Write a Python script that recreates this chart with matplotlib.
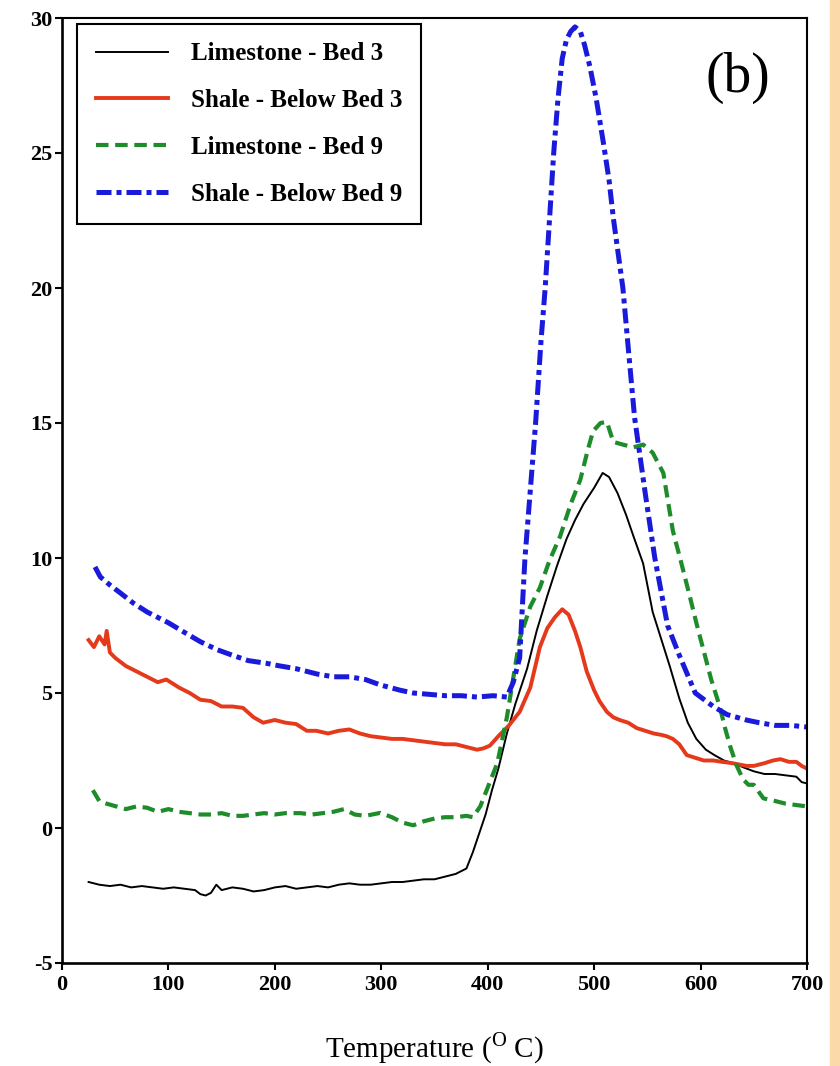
import matplotlib.pyplot as plt
from matplotlib.patches import Rectangle

# temperature (deg C) and signal for each sample
lime3_t = [25, 35, 45, 55, 65, 75, 85, 95, 105, 115, 125, 130, 135, 140, 145, 150,
           160, 170, 180, 190, 200, 210, 220, 230, 240, 250, 260, 270, 280, 290, 300,
           310, 320, 330, 340, 350, 360, 370, 380, 386, 392, 398, 404, 410, 418, 426,
           437, 446, 456, 465, 474, 482, 490, 500, 508, 514, 522, 530, 537, 546, 555,
           563, 571, 580, 588, 596, 605, 613, 622, 631, 640, 650, 660, 670, 680, 690,
           695, 700]
lime3_v = [-2.0, -2.1, -2.15, -2.1, -2.2, -2.15, -2.2, -2.25, -2.2, -2.25, -2.3, -2.45,
           -2.5, -2.4, -2.1, -2.3, -2.2, -2.25, -2.35, -2.3, -2.2, -2.15, -2.25, -2.2,
           -2.15, -2.2, -2.1, -2.05, -2.1, -2.1, -2.05, -2.0, -2.0, -1.95, -1.9, -1.9,
           -1.8, -1.7, -1.5, -0.9, -0.2, 0.5, 1.4, 2.2, 3.5, 4.6, 5.9, 7.3, 8.6, 9.7,
           10.7, 11.4, 12.0, 12.6, 13.15, 13.0, 12.4, 11.6, 10.8, 9.8, 8.0, 7.0, 6.0,
           4.8, 3.9, 3.3, 2.9, 2.7, 2.5, 2.4, 2.25, 2.1, 2.0, 2.0, 1.95, 1.9, 1.7, 1.65]

shale3_t = [25, 30, 35, 40, 42, 45, 50, 60, 70, 80, 90, 98, 110, 120, 130, 140, 150,
            160, 170, 180, 189, 200, 210, 220, 230, 239, 250, 260, 270, 280, 290, 300,
            310, 320, 330, 340, 350, 360, 370, 380, 390, 396, 402, 410, 420, 430, 440,
            449, 456, 463, 470, 476, 482, 487, 493, 500, 505, 512, 518, 524, 532, 540,
            548, 556, 563, 568, 574, 580, 587, 595, 603, 612, 620, 630, 643, 650, 660,
            668, 675, 683, 690, 695, 700]
shale3_v = [6.96, 6.7, 7.1, 6.8, 7.3, 6.5, 6.3, 6.0, 5.8, 5.6, 5.4, 5.5, 5.2, 5.0, 4.75,
            4.7, 4.5, 4.5, 4.45, 4.1, 3.9, 4.0, 3.9, 3.85, 3.6, 3.6, 3.5, 3.6, 3.65, 3.5,
            3.4, 3.35, 3.3, 3.3, 3.25, 3.2, 3.15, 3.1, 3.1, 3.0, 2.9, 2.95, 3.05, 3.4,
            3.8, 4.3, 5.2, 6.7, 7.4, 7.8, 8.1, 7.9, 7.3, 6.7, 5.8, 5.1, 4.7, 4.3, 4.1,
            4.0, 3.9, 3.7, 3.6, 3.5, 3.45, 3.4, 3.3, 3.1, 2.7, 2.6, 2.5, 2.5, 2.45, 2.4,
            2.3, 2.3, 2.4, 2.5, 2.55, 2.45, 2.45, 2.3, 2.2]

lime9_t = [29, 35, 42, 51, 60, 70, 80, 90, 100, 110, 120, 130, 140, 150, 160, 170, 180,
           190, 200, 210, 224, 235, 245, 255, 265, 275, 285, 299, 310, 320, 330, 340,
           350, 360, 370, 380, 386, 393, 400, 409, 418, 430, 440, 449, 458, 468, 478,
           487, 494, 499, 506, 512, 518, 527, 537, 546, 555, 565, 574, 582, 590, 596,
           602, 610, 618, 623, 628, 634, 640, 645, 650, 659, 670, 680, 690, 700]
lime9_v = [1.4, 1.0, 0.9, 0.8, 0.7, 0.8, 0.75, 0.6, 0.7, 0.6, 0.55, 0.5, 0.5, 0.55, 0.45,
           0.45, 0.5, 0.55, 0.5, 0.55, 0.55, 0.5, 0.55, 0.6, 0.7, 0.5, 0.45, 0.56, 0.4,
           0.2, 0.1, 0.25, 0.35, 0.4, 0.4, 0.45, 0.4, 0.8, 1.5, 2.4, 4.1, 7.0, 8.2, 8.9,
           9.9, 10.8, 12.0, 12.9, 14.0, 14.7, 15.0, 15.04, 14.3, 14.2, 14.1, 14.2, 13.9,
           13.15, 11.0, 9.8, 8.56, 7.6, 6.7, 5.5, 4.5, 3.7, 3.0, 2.3, 1.8, 1.6, 1.6, 1.1,
           1.0, 0.9, 0.85, 0.8]

shale9_t = [31, 36, 45, 55, 67, 80, 90, 100, 117, 130, 146, 160, 175, 192, 205, 220,
            240, 255, 270, 285, 299, 318, 330, 345, 360, 375, 390, 405, 418, 424, 430,
            435, 440, 445, 450, 454, 458, 462, 466, 470, 474, 478, 482, 487, 491, 496,
            502, 509, 514, 518, 527, 532, 538, 548, 557, 569, 580, 595, 612, 625, 643,
            655, 670, 685, 700]
shale9_v = [9.67, 9.3, 9.0, 8.7, 8.33, 8.0, 7.8, 7.6, 7.2, 6.9, 6.6, 6.4, 6.2, 6.1, 6.0,
            5.9, 5.7, 5.6, 5.6, 5.5, 5.3, 5.1, 5.0, 4.95, 4.9, 4.9, 4.85, 4.9, 4.85, 5.4,
            6.3, 10.0, 12.5, 15.0, 18.0, 20.0, 22.5, 25.0, 27.0, 28.5, 29.2, 29.5, 29.67,
            29.5, 29.0, 28.2, 27.0, 25.3, 24.0, 22.6, 20.0, 17.8, 15.2, 12.4, 10.0, 7.5,
            6.4, 5.0, 4.5, 4.2, 4.0, 3.9, 3.8, 3.8, 3.74]

labels = ['Limestone - Bed 3', 'Shale - Below Bed 3', 'Limestone - Bed 9', 'Shale - Below Bed 9']
xticks = [0, 100, 200, 300, 400, 500, 600, 700]
yticks = [-5, 0, 5, 10, 15, 20, 25, 30]

plt.rcParams['font.family'] = ['Liberation Serif', 'DejaVu Serif']
plt.rcParams['mathtext.fontset'] = 'custom'
plt.rcParams['mathtext.rm'] = 'Liberation Serif'
plt.rcParams['axes.unicode_minus'] = False

fig = plt.figure(figsize=(8.4, 10.66), dpi=100)
fig.patches.append(Rectangle((830 / 840, 0), 10 / 840, 1, transform=fig.transFigure,
                             color='#FCD9A8', zorder=0))
ax = fig.add_axes([62 / 840, 103 / 1066, 745 / 840, 945 / 1066])

ax.plot(lime3_t, lime3_v, color='black', lw=1.4, label=labels[0])
ax.plot(shale3_t, shale3_v, color='#E5391C', lw=2.8, label=labels[1])
ax.plot(lime9_t, lime9_v, color='#1E8C2A', lw=3.0, linestyle=(0, (3, 1.6)), label=labels[2])
ax.plot(shale9_t, shale9_v, color='#1A1ADB', lw=3.6, linestyle=(0, (3, 1, 1, 1)), label=labels[3])

ax.set_xlim(0, 700)
ax.set_ylim(-5, 30)
ax.set_xticks(xticks)
ax.set_yticks(yticks)
ax.tick_params(direction='out', length=5, width=1.5, labelsize=16, top=False, right=False)
ax.tick_params(axis='y', pad=2)
for lab in ax.get_xticklabels() + ax.get_yticklabels():
    lab.set_fontweight('bold')
for side in ['left', 'bottom']:
    ax.spines[side].set_linewidth(1.9)
for side in ['top', 'right']:
    ax.spines[side].set_linewidth(1.5)

ax.set_xlabel(r'Temperature ($^{\mathrm{O}}$ C)', fontsize=21, labelpad=26)
ax.text(0.907, 0.937, '(b)', transform=ax.transAxes, fontsize=40,
        ha='center', va='center')

leg = ax.legend(loc='upper left', bbox_to_anchor=(0.02, 0.994), borderaxespad=0,
                prop={'weight': 'bold', 'size': 18}, handlelength=2.9,
                handletextpad=0.9, labelspacing=0.95, borderpad=0.75,
                fancybox=False, framealpha=1, edgecolor='black')
leg.get_frame().set_linewidth(1.5)

fig.savefig('out.png', dpi=100)
